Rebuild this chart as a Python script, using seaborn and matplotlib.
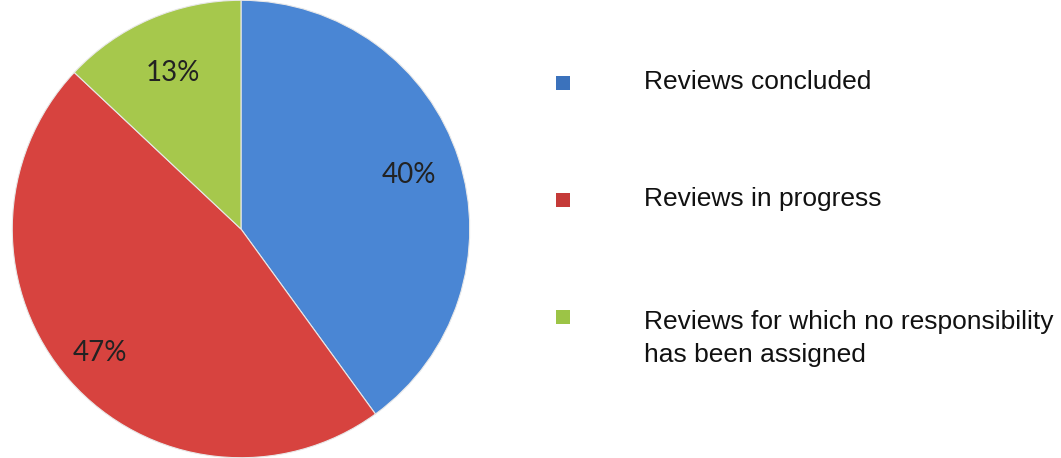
import numpy as np
import matplotlib
matplotlib.use("Agg")
import matplotlib.pyplot as plt
import seaborn as sns

categories = [
    "Reviews concluded",
    "Reviews in progress",
    "Reviews for which no responsibility\nhas been assigned",
]
shares = [40, 47, 13]
wedge_colors = ["#4A86D4", "#D7433F", "#A6C84C"]
marker_colors = ["#3B72BC", "#C53A38", "#9CC446"]
label_dist = [0.77, 0.82, 0.745]

sns.set_theme(style="white")
plt.rcParams["font.family"] = ["Liberation Sans", "DejaVu Sans"]

fig = plt.figure(figsize=(10.61, 4.58), dpi=100)

# pie on the left
ax = fig.add_axes([10 / 1061, 0.0, 462 / 1061, 1.0])
wedges, texts, autotexts = ax.pie(
    shares,
    colors=sns.color_palette(wedge_colors),
    startangle=90,
    counterclock=False,
    autopct="%d%%",
    radius=1.0,
    wedgeprops={"edgecolor": "#e8e8e8", "linewidth": 0.8},
    textprops={"fontsize": 20, "color": "#222222", "family": ["Lato", "DejaVu Sans"]},
)
for w, t, d in zip(wedges, autotexts, label_dist):
    mid = np.deg2rad((w.theta1 + w.theta2) / 2)
    t.set_position((d * np.cos(mid), d * np.sin(mid)))
ax.set_aspect("equal")
ax.set_xlim(-1.01, 1.01)
ax.set_ylim(-1.0, 1.0)

# legend drawn as its own axes, one row per category
leg = fig.add_axes([540 / 1061, 0.0, 521 / 1061, 1.0])
step = 117
leg.set_xlim(0, 521)
leg.set_ylim((458 - 89) / step, -89 / step)
leg.axis("off")
rows = np.arange(len(categories))
sns.scatterplot(
    x=[23] * len(rows),
    y=rows - 6 / step,
    hue=categories,
    palette=marker_colors,
    marker="s",
    s=115,
    edgecolor="none",
    legend=False,
    ax=leg,
)
for i, label in zip(rows, categories):
    extra = label.count("\n") * 39 / step
    leg.text(104, i + extra, label, fontsize=19, va="baseline", ha="left",
             color="#111111", linespacing=1.45)

fig.savefig("out.png", dpi=100)
